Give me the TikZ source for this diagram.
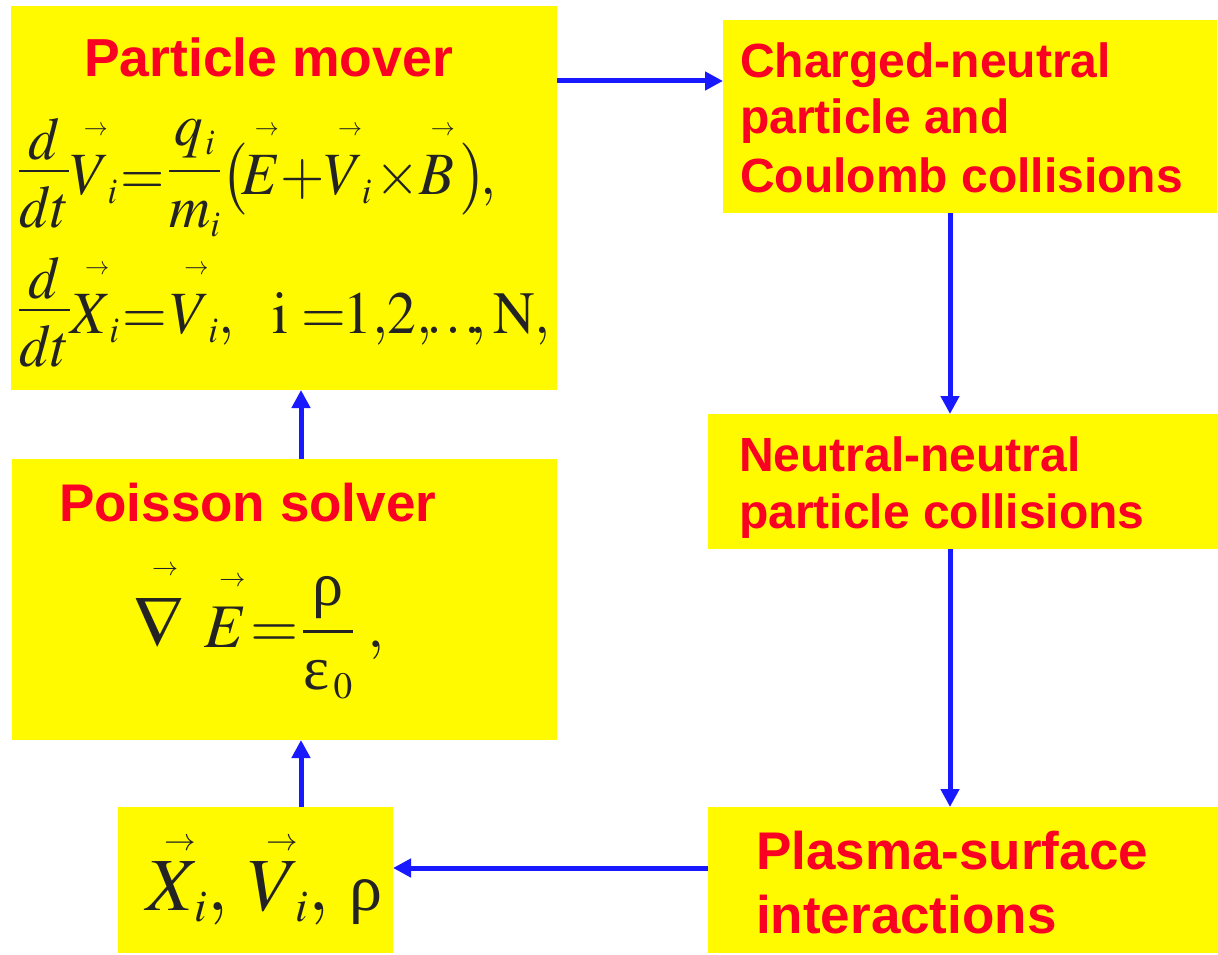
\documentclass[tikz,border=0pt]{standalone}
\usepackage{amsmath}
\usepackage{mathptmx}
\usepackage[no-math]{fontspec}
\newfontfamily\hdfont{Liberation Sans}
\newfontfamily\grk{Liberation Serif}
\renewcommand\defaultscriptratio{.6}
\renewcommand\defaultscriptscriptratio{.42}
\usetikzlibrary{arrows.meta}
\definecolor{boxyellow}{RGB}{255,250,0}
\definecolor{hdred}{RGB}{250,0,35}
\definecolor{arrblue}{RGB}{25,25,255}
\definecolor{ink}{RGB}{35,35,35}
\newcommand\vv[2][.12em]{\overset{\makebox[0pt]{\raisebox{#1}{$\scriptscriptstyle\mkern9mu\rightarrow$}}}{#2}}
\newcommand\ddt{\raisebox{8pt}{$\displaystyle\frac{\raisebox{-14pt}{$d$}}{dt}$}}
\newcommand\rfrac[2]{\raisebox{8pt}{$\displaystyle\frac{#1}{#2}$}}
\tikzset{
  box/.style={fill=boxyellow, draw=none, inner sep=0pt, outer sep=0pt, anchor=north west},
  hd/.style={text=hdred, inner sep=0pt, anchor=base west},
  eq/.style={text=ink, inner sep=0pt, anchor=base west,
    execute at begin node={\thinmuskip=1mu\medmuskip=0mu\thickmuskip=1mu}},
  arr/.style={draw=arrblue, line width=5pt, -{Triangle[length=18pt 0 0,width=18pt 0 0]}}
}
\begin{document}
\begin{tikzpicture}[x=1pt,y=-1pt]
\useasboundingbox[fill=white] (0,0) rectangle (1218,955);
% boxes
\node[box, minimum width=546pt, minimum height=384pt] (pm) at (11,6) {};
\node[box, minimum width=545pt, minimum height=281pt] (ps) at (12,459) {};
\node[box, minimum width=275pt, minimum height=146pt] (xv) at (118,807) {};
\node[box, minimum width=494pt, minimum height=193pt] (cn) at (723,20) {};
\node[box, minimum width=510pt, minimum height=135pt] (nn) at (708,414) {};
\node[box, minimum width=510pt, minimum height=146pt] (psi) at (708,807) {};
% headings
\node[hd, font={\hdfont\bfseries\fontsize{53.5}{60}\selectfont}] (pmt) at (84,77) {Particle mover};
\node[hd, font={\hdfont\bfseries\fontsize{53}{60}\selectfont}] (pst) at (59,521) {Poisson solver};
\node[hd, font={\hdfont\bfseries\fontsize{48}{57}\selectfont}] (cn1) at (740,78) {Charged-neutral};
\node[hd, font={\hdfont\bfseries\fontsize{48}{57}\selectfont}] (cn2) at (740,134) {particle and};
\node[hd, font={\hdfont\bfseries\fontsize{48}{57}\selectfont}] (cn3) at (740,192) {Coulomb collisions};
\node[hd, font={\hdfont\bfseries\fontsize{48}{57}\selectfont}] (nn1) at (739,471) {Neutral-neutral};
\node[hd, font={\hdfont\bfseries\fontsize{48}{57}\selectfont}] (nn2) at (739,528) {particle collisions};
\node[hd, font={\hdfont\bfseries\fontsize{53}{64}\selectfont}] (ps1) at (756,869) {Plasma-surface};
\node[hd, font={\hdfont\bfseries\fontsize{53}{64}\selectfont}] (ps2) at (756,933) {interactions};
% equations
\node[eq, font={\fontsize{60}{72}\selectfont}] (eq1) at (18,194)
  {\scalebox{0.95}[1]{$\ddt\vv{V}_{\!i} = \rfrac{q_{\,i}}{m_i}\bigl(\mkern-2mu\vv{E}+\vv{V}_{\!i}\mkern1mu\times\vv{B}\mkern2mu\bigr)\mkern-2mu{,}$}};
\node[eq, font={\fontsize{60}{72}\selectfont}] (eq2) at (18,333)
  {\scalebox{0.96}[1]{$\ddt\vv{X}_{\!i} = \vv{V}_{\!i}{,}\mkern12mu \mathrm{i}\mkern4mu{=}\mkern-1mu1{,}2{,}\mkern-3mu\ldots\mkern-4mu{,}\mkern2mu\mathrm{N}{,}$}};
\node[eq, font={\fontsize{62}{74}\selectfont}] (eq3) at (133,647)
  {$\displaystyle \vv{\scalebox{1.15}{$\nabla$}}\mkern6mu\vv{E} = \frac{\text{\grk ρ}}{\text{\grk ε}_{\mkern2mu0}}\mkern4mu{,}$};
\node[eq, font={\fontsize{75}{90}\selectfont}] (eq4) at (146,910)
  {$\vv[-.05em]{X}_{\mkern-2mu i}{,}\mkern5mu\vv[-.05em]{V}_{\mkern-2mu i}{,}\mkern5mu\text{\grk\fontsize{66}{70}\selectfont ρ}$};
% connectors
\coordinate (lx) at (301,0);
\coordinate (rx) at (950,0);
\coordinate (ty) at (0,81);
\coordinate (by) at (0,868);
\draw[arr] (pm.east |- ty) -- (cn.west |- ty);
\draw[arr] (rx |- cn.south) -- (rx |- nn.north);
\draw[arr] (rx |- nn.south) -- (rx |- psi.north);
\draw[arr] (psi.west |- by) -- (xv.east |- by);
\draw[arr] (lx |- xv.north) -- (lx |- ps.south);
\draw[arr] (lx |- ps.north) -- (lx |- pm.south);
\end{tikzpicture}
\end{document}
